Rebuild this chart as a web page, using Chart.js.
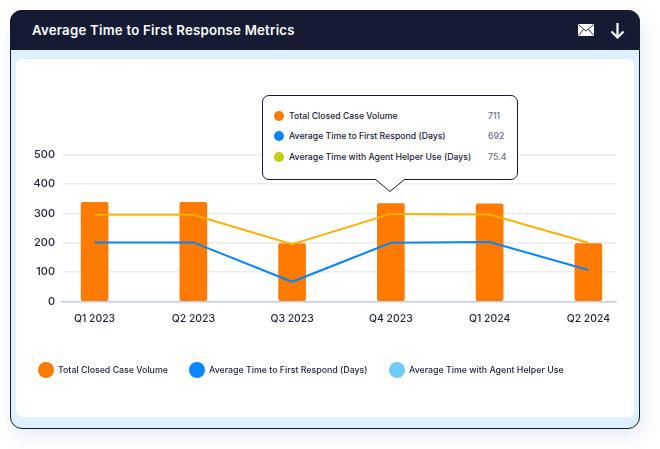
<!DOCTYPE html>
<html>
<head>
<meta charset="utf-8">
<script src="https://cdn.jsdelivr.net/npm/chart.js@4"></script>
<style>
html, body { margin: 0; padding: 0; background: #fff; }
body { width: 660px; height: 449px; position: relative; overflow: hidden; font-family: Inter, "Open Sans", sans-serif; }
.card { position: absolute; left: 10px; top: 10px; width: 628px; height: 417px; background: #ddf1fe; border: 1px solid #141b33; border-radius: 12px; box-shadow: 4px 8px 18px rgba(90,120,200,.14); }
.head { position: absolute; left: -1px; top: -1px; width: 630px; height: 40px; background: #141b33; border-radius: 12px 12px 0 0; }
.title { position: absolute; left: 22px; top: 12px; color: #fff; font-size: 13.2px; font-weight: 600; letter-spacing: 0.25px; line-height: 16px; white-space: nowrap; }
.panel { position: absolute; left: 5px; top: 48px; width: 618px; height: 358px; background: #fff; border-radius: 6px; }
canvas { position: absolute; left: 0; top: 0; }
.icon { position: absolute; }
.legend-item { position: absolute; top: 362px; height: 16px; line-height: 16px; font-size: 8.8px; font-weight: 500; color: #1c2238; white-space: nowrap; }
.legend-item i { position: absolute; left: 0; top: 0; width: 16px; height: 16px; border-radius: 50%; }
.legend-item span { position: absolute; left: 20px; top: 0; }
.tip { position: absolute; left: 262px; top: 95px; width: 254px; height: 83px; background: #fff; border: 1px solid #141b33; border-radius: 7px; }
.tip svg { position: absolute; left: 112px; top: 82px; }
.tip-row { position: absolute; left: 11px; height: 10px; font-size: 8.7px; line-height: 10px; font-weight: 500; color: #1c2238; white-space: nowrap; }
.tip-row i { position: absolute; left: 0; top: 0; width: 10px; height: 10px; border-radius: 50%; }
.tip-row span { position: absolute; left: 15px; top: 0; }
.tip-row b { position: absolute; left: 214px; top: 0; font-weight: 500; color: #6b6f85; }
</style>
</head>
<body>
<div class="card">
  <div class="head">
    <div class="title">Average Time to First Response Metrics</div>
  </div>
  <div class="panel"></div>
</div>
<svg class="icon" style="left:578px;top:24px" width="16" height="12" viewBox="0 0 16 12">
  <rect width="16" height="12" rx="1" fill="#fff"/>
  <path d="M0.5 0.8 L8 7 L15.5 0.8 M0.5 11.3 L5.6 5.4 M15.5 11.3 L10.4 5.4" fill="none" stroke="#141b33" stroke-width="0.9"/>
</svg>
<svg class="icon" style="left:610px;top:22px" width="15" height="17" viewBox="0 0 15 17">
  <path d="M7.5 1 V15 M1.5 9.5 L7.5 15.5 L13.5 9.5" fill="none" stroke="#fff" stroke-width="2.2"/>
</svg>
<canvas id="myChart" width="660" height="449"></canvas>
<div id="legend"></div>
<div class="tip" id="tip">
  <svg width="30" height="15" viewBox="0 0 30 15">
    <path d="M0 1 L15 13.5 L30 1" fill="#fff" stroke="#141b33" stroke-width="1"/>
    <rect x="1.5" y="0" width="27" height="1.2" fill="#fff"/>
  </svg>
</div>
<script>
const categories = ['Q1 2023', 'Q2 2023', 'Q3 2023', 'Q4 2023', 'Q1 2024', 'Q2 2024'];
const closedCases = [337, 337, 197, 333, 332, 197];
const firstRespond = [201, 201, 67, 200, 202, 107];
const agentHelper = [295, 295, 195, 298, 296, 200];
const yTicks = [0, 100, 200, 300, 400, 500];

const legendNames = ['Total Closed Case Volume', 'Average Time to First Respond (Days)', 'Average Time with Agent Helper Use'];
const legendColors = ['#ff7a00', '#0a84ff', '#6fcbff'];
const legendLefts = [38, 189, 389];

const tipNames = ['Total Closed Case Volume', 'Average Time to First Respond (Days)', 'Average Time with Agent Helper Use (Days)'];
const tipValues = ['711', '692', '75.4'];
const tipColors = ['#ff7a00', '#0a84ff', '#c5cc0c'];
const tipTops = [15, 35, 56];

// legend and tooltip are plain html, colours differ from the lines in the original
legendNames.forEach(function (name, i) {
    const el = document.createElement('div');
    el.className = 'legend-item';
    el.style.left = legendLefts[i] + 'px';
    el.innerHTML = '<i style="background:' + legendColors[i] + '"></i><span>' + name + '</span>';
    document.getElementById('legend').appendChild(el);
});
tipNames.forEach(function (name, i) {
    const el = document.createElement('div');
    el.className = 'tip-row';
    el.style.top = tipTops[i] + 'px';
    el.innerHTML = '<i style="background:' + tipColors[i] + '"></i><span>' + name + '</span><b>' + tipValues[i] + '</b>';
    document.getElementById('tip').appendChild(el);
});

function toPoints(values) {
    return values.map(function (v, i) { return { x: i, y: v }; });
}

new Chart(document.getElementById('myChart'), {
    type: 'bar',
    data: {
        datasets: [
            {
                type: 'line',
                label: 'Average Time with Agent Helper Use',
                data: toPoints(agentHelper),
                borderColor: '#ffb000',
                borderWidth: 2,
                pointRadius: 0,
                tension: 0,
                order: 1
            },
            {
                type: 'line',
                label: 'Average Time to First Respond (Days)',
                data: toPoints(firstRespond),
                borderColor: '#0a84ff',
                borderWidth: 2,
                pointRadius: 0,
                tension: 0,
                order: 2
            },
            {
                label: 'Total Closed Case Volume',
                data: toPoints(closedCases),
                backgroundColor: '#ff7a00',
                borderRadius: 2,
                borderSkipped: false,
                barThickness: 27,
                order: 3
            }
        ]
    },
    options: {
        responsive: false,
        animation: false,
        events: [],
        layout: { padding: { left: 0, top: 154.5, right: 44, bottom: 119.5 } },
        plugins: { legend: { display: false }, tooltip: { enabled: false } },
        scales: {
            x: {
                type: 'linear',
                offset: false,
                min: -0.33,
                max: 5.28,
                afterBuildTicks: function (scale) {
                    scale.ticks = categories.map(function (c, i) { return { value: i }; });
                },
                afterFit: function (scale) { scale.height = 28; },
                grid: { display: false, drawTicks: false },
                border: { color: '#c3cbe5', width: 1.5 },
                ticks: {
                    color: '#1c2238',
                    font: { family: 'Inter', size: 10.4, weight: '500' },
                    padding: 11,
                    maxRotation: 0,
                    autoSkip: false,
                    callback: function (value) { return categories[value]; }
                }
            },
            y: {
                min: 0,
                max: 500,
                afterBuildTicks: function (scale) {
                    scale.ticks = yTicks.map(function (v) { return { value: v }; });
                },
                afterFit: function (scale) { scale.width = 62; },
                grid: { color: '#ebecf4', lineWidth: 1.5, drawTicks: false },
                border: { display: false },
                ticks: { color: '#1c2238', font: { family: 'Inter', size: 11, weight: '500' }, padding: 7 }
            }
        }
    }
});
</script>
</body>
</html>
